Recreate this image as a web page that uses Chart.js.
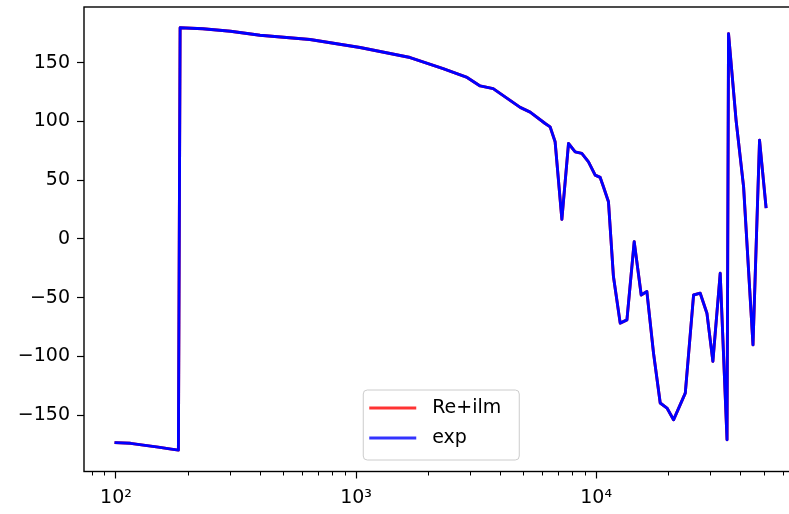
<!DOCTYPE html>
<html><head><meta charset="utf-8">
<script src="https://cdn.jsdelivr.net/npm/chart.js@4"></script>
<style>html,body{margin:0;padding:0;background:#fff;overflow:hidden;width:789px;height:514px}canvas{display:block}</style>
</head><body>
<canvas id="c" width="812" height="514"></canvas>
<script>
const freqs = [100, 115, 130, 150, 170, 182, 185, 230, 300, 398, 643, 1039, 1679, 2304, 2900, 3286, 3724, 4825, 5309, 6131, 6430, 6745, 7196, 7670, 8175, 8710, 9290, 9904, 10391, 10720, 11250, 11800, 12590, 13430, 14400, 15400, 16260, 17330, 18480, 19720, 21000, 23500, 25450, 27120, 28920, 30620, 32850, 35070, 35580, 38260, 41110, 44990, 47900, 50950];
const reIlmPhase = [-173.5, -174, -175.5, -177.3, -179, -179.8, 179.8, 179, 176.9, 173.4, 169.8, 163, 154.5, 145, 137.5, 130.3, 128, 112, 108, 98.3, 95.4, 82.7, 16.7, 81.3, 74.2, 72.8, 65.7, 54.4, 52.4, 44.4, 31.7, -32, -71.7, -68.9, -2.3, -47.7, -44.8, -97.2, -139.7, -144, -154, -131.2, -47.7, -46.2, -63.2, -104.2, -29.2, -171, 174.8, 100.8, 44.4, -90.2, 84.1, 27.4];
const expPhase = [-173.5, -174, -175.5, -177.3, -179, -179.8, 179.8, 179, 176.9, 173.4, 169.8, 163, 154.5, 145, 137.5, 130.3, 128, 112, 108, 98.3, 95.4, 82.7, 16.7, 81.3, 74.2, 72.8, 65.7, 54.4, 52.4, 44.4, 31.7, -32, -71.7, -68.9, -2.3, -47.7, -44.8, -97.2, -139.7, -144, -154, -131.2, -47.7, -46.2, -63.2, -104.2, -29.2, -171, 174.8, 100.8, 44.4, -90.2, 84.1, 27.4];
const seriesNames = ['Re+ilm', 'exp'];
const seriesColors = ['#ff0000', '#0000ff'];
const xMajorTicks = [100, 1000, 10000];
const xMajorLabels = ['10²', '10³', '10⁴'];
const xMinorTicks = [80, 90, 200, 300, 400, 500, 600, 700, 800, 900, 2000, 3000, 4000, 5000, 6000, 7000, 8000, 9000, 20000, 30000, 40000, 50000, 60000];
const yTicks = [-150, -100, -50, 0, 50, 100, 150];

const FONT = {family: '"DejaVu Sans", sans-serif', size: 19};
const X_MIN = 73.6, X_MAX = 69600, Y_MIN = -198, Y_MAX = 197.5;

const framePlugin = {
  id: 'frame',
  afterDatasetsDraw(chart) {
    const a = chart.chartArea, ctx = chart.ctx;
    ctx.save();
    ctx.strokeStyle = '#000';
    ctx.lineWidth = 1.4;
    ctx.strokeRect(a.left, a.top, a.right - a.left, a.bottom - a.top);
    ctx.restore();
  }
};

const legendPlugin = {
  id: 'mplLegend',
  afterDraw(chart) {
    const a = chart.chartArea, ctx = chart.ctx;
    const w = 156, h = 70, r = 4;
    const cx = (a.left + a.right) / 2;
    const x0 = cx - w / 2, y0 = a.bottom - 11.5 - h;
    ctx.save();
    ctx.beginPath();
    ctx.roundRect(x0, y0, w, h, r);
    ctx.fillStyle = 'rgba(255,255,255,0.8)';
    ctx.fill();
    ctx.strokeStyle = '#cccccc';
    ctx.lineWidth = 1;
    ctx.stroke();
    ctx.font = FONT.size + 'px ' + FONT.family;
    ctx.textBaseline = 'middle';
    ctx.textAlign = 'left';
    chart.data.datasets.forEach((ds, i) => {
      const y = y0 + 18 + i * 30;
      ctx.beginPath();
      ctx.moveTo(x0 + 6, y);
      ctx.lineTo(x0 + 53, y);
      ctx.strokeStyle = ds.borderColor;
      ctx.globalAlpha = 0.8;
      ctx.lineWidth = 2.9;
      ctx.stroke();
      ctx.globalAlpha = 1;
      ctx.fillStyle = '#000';
      ctx.fillText(ds.label, x0 + 69, y);
    });
    ctx.restore();
  }
};

new Chart(document.getElementById('c').getContext('2d'), {
  type: 'line',
  data: {
    datasets: [reIlmPhase, expPhase].map((vals, i) => ({
      label: seriesNames[i],
      data: freqs.map((f, j) => ({x: f, y: vals[j]})),
      borderColor: seriesColors[i],
      backgroundColor: seriesColors[i],
      borderWidth: 2.9,
      pointRadius: 0,
      tension: 0,
      fill: false,
      order: 1 - i,
      xAxisID: 'x',
      yAxisID: 'y',
      borderJoinStyle: 'round',
      borderCapStyle: 'square'
    }))
  },
  options: {
    responsive: false,
    animation: false,
    devicePixelRatio: 1,
    layout: {padding: {left: 0, top: 7, right: 13.5, bottom: 0}},
    plugins: {legend: {display: false}, tooltip: {enabled: false}},
    scales: {
      x: {
        type: 'logarithmic', position: 'bottom', weight: 1,
        min: X_MIN, max: X_MAX,
        afterBuildTicks: s => { s.ticks = xMajorTicks.map(v => ({value: v})); },
        afterFit: s => { s.height = 42.5; s.paddingLeft = 0; s.paddingRight = 0; },
        ticks: {
          autoSkip: false, maxRotation: 0, color: '#000', font: FONT, padding: 8,
          callback: v => { const k = xMajorTicks.indexOf(v); return k >= 0 ? xMajorLabels[k] : ''; }
        },
        grid: {drawOnChartArea: false, drawTicks: true, tickLength: 7, tickColor: '#000', tickWidth: 1.2},
        border: {display: false}
      },
      xMinor: {
        type: 'logarithmic', position: 'bottom', weight: 0,
        min: X_MIN, max: X_MAX,
        afterBuildTicks: s => { s.ticks = xMinorTicks.map(v => ({value: v})); },
        afterFit: s => { s.height = 0; s.paddingLeft = 0; s.paddingRight = 0; },
        ticks: {display: false},
        grid: {drawOnChartArea: false, drawTicks: true, tickLength: 4, tickColor: '#000', tickWidth: 1},
        border: {display: false}
      },
      y: {
        type: 'linear', position: 'left',
        min: Y_MIN, max: Y_MAX,
        afterBuildTicks: s => { s.ticks = yTicks.map(v => ({value: v})); },
        afterFit: s => { s.width = 84; s.paddingTop = 0; s.paddingBottom = 0; },
        ticks: {
          color: '#000', font: FONT, padding: 7,
          callback: v => (v < 0 ? '\u2212' + Math.abs(v) : String(v))
        },
        grid: {drawOnChartArea: false, drawTicks: true, tickLength: 7, tickColor: '#000', tickWidth: 1.2},
        border: {display: false}
      }
    }
  },
  plugins: [framePlugin, legendPlugin]
});
</script>
</body></html>
